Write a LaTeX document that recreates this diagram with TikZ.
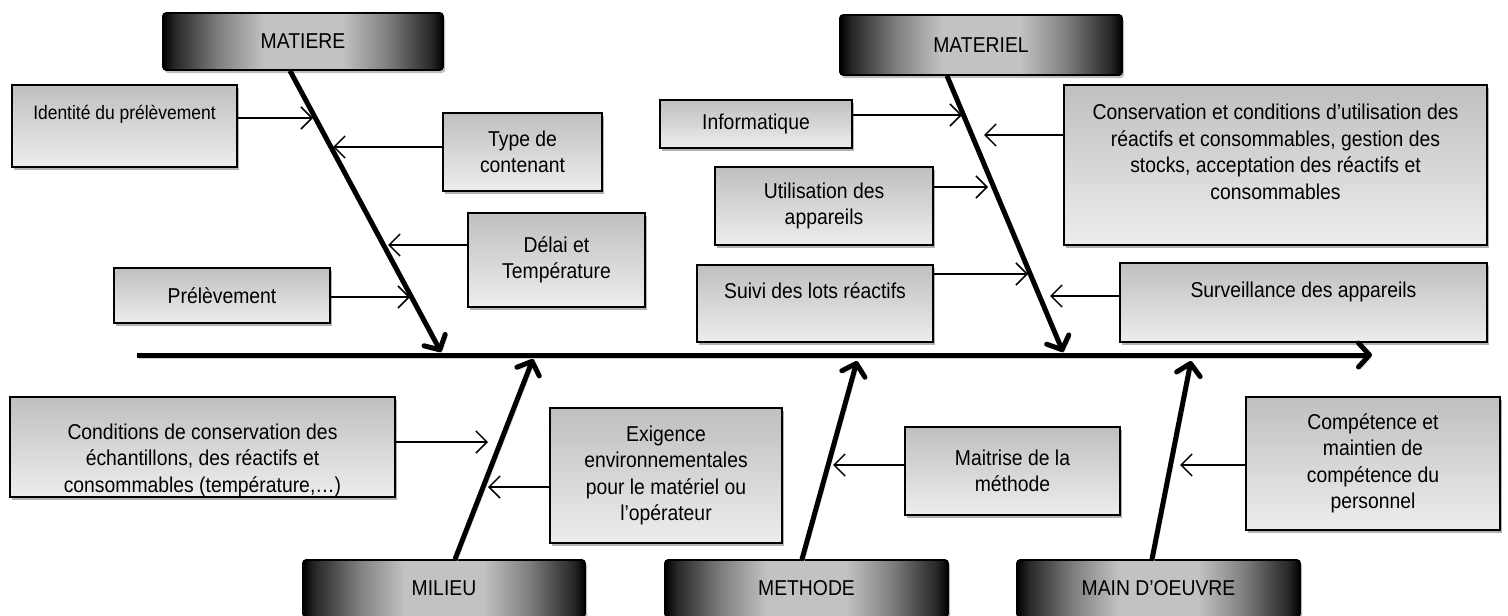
\documentclass[tikz,border=0pt]{standalone}
\usepackage{fontspec}
\setmainfont{Liberation Sans}[FakeStretch=0.9]
\usetikzlibrary{arrows.meta,shadows,calc}
\pgfdeclarehorizontalshading{hdrshade}{100bp}{color(0bp)=(black); color(25bp)=(black); color(27bp)=(black!85); color(35bp)=(black!50); color(43bp)=(black!24); color(57bp)=(black!24); color(65bp)=(black!50); color(73bp)=(black!85); color(75bp)=(black); color(100bp)=(black)}
\tikzset{
  ibox/.style={draw, line width=1.4pt, top color=black!25, bottom color=black!7,
    drop shadow={shadow xshift=2pt, shadow yshift=-3pt, fill=black, opacity=0.3},
    align=center, inner sep=0pt, font=\fontsize{21.5}{26.5}\selectfont},
  hdr/.style={draw, line width=1.6pt, rounded corners=3pt, shading=hdrshade,
    drop shadow={shadow xshift=2pt, shadow yshift=-3pt, fill=black, opacity=0.25},
    inner sep=0pt, font=\fontsize{21.5}{23}\selectfont},
  lshadow/.style={preaction={draw=black!18, transform canvas={xshift=2pt,yshift=-3pt}}},
  bone/.style={line width=5pt, lshadow, -{Straight Barb[length=11pt,width=24pt,round]}},
  arr/.style={line width=1.5pt, -{Straight Barb[length=11pt,width=22pt]}}
}
\newcommand\mkbox[7][]{\node[ibox,#1,minimum width={#5-#3},minimum height={#6-#4}] (#2) at ({(#3+#5)/2},{(#4+#6)/2}) {#7};}
\begin{document}
\begin{tikzpicture}[x=1pt,y=-1pt]
\useasboundingbox (0,0) rectangle (1508,616);
\clip (0,0) rectangle (1508,616);
% header boxes
\node[hdr,minimum width=280pt,minimum height=57pt] (hm) at (303,41.5) {MATIERE};
\node[hdr,minimum width=282pt,minimum height=60pt] (hmat) at (981,45) {MATERIEL};
\node[hdr,minimum width=282pt,minimum height=57pt] (hmil) at (444,588.5) {MILIEU};
\node[hdr,minimum width=283pt,minimum height=57pt] (hmeth) at (806.5,588.5) {METHODE};
\node[hdr,minimum width=283pt,minimum height=57pt] (hmain) at (1158.5,588.5) {MAIN D’OEUVRE};
% cause boxes
\mkbox[font=\fontsize{19.4}{26.5}\selectfont]{b1}{12}{85}{237}{167}{Identité du prélèvement\\\mbox{}}
\mkbox{b2}{443}{113}{602}{191}{Type de\\contenant}
\mkbox{b3}{468}{213}{645}{307}{Délai et\\Température}
\mkbox{b4}{114}{268}{330}{323}{Prélèvement}
\mkbox{b5}{660}{100}{852}{148}{Informatique}
\mkbox{b6}{1064}{85}{1487}{245}{Conservation et conditions d’utilisation des\\réactifs et consommables, gestion des\\stocks, acceptation des réactifs et\\consommables\\\mbox{}}
\mkbox{b7}{715}{167}{933}{245}{Utilisation des\\appareils}
\mkbox{b8}{697}{265}{933}{342}{Suivi des lots réactifs\\\mbox{}}
\mkbox{b9}{1120}{263}{1487}{342}{Surveillance des appareils\\\mbox{}}
\mkbox{b10}{10}{397}{395}{497}{\rule{0pt}{15pt}\\Conditions de conservation des\\échantillons, des réactifs et\\consommables (température,…)}
\mkbox{b11}{550}{408}{782}{543}{Exigence\\environnementales\\pour le matériel ou\\l’opérateur}
\mkbox{b12}{905}{427}{1120}{515}{Maitrise de la\\méthode}
\mkbox{b13}{1246}{397}{1500}{530}{Compétence et\\maintien de\\compétence du\\personnel}
% spine
\coordinate (s0) at (137,355);
\coordinate (s1) at (1372,355);
\draw[bone] (s0) -- (s1);
% bones
\coordinate (tm) at (441,352);
\coordinate (tmat) at (1063,352);
\coordinate (tmil) at (533,359);
\coordinate (tmeth) at (857,361);
\coordinate (tmain) at (1191,361);
\draw[bone] ($(hm.south)+(-13,0)$) -- (tm);
\draw[bone] ($(hmat.south)+(-34,0)$) -- (tmat);
\draw[bone] ($(hmil.north)+(11,0)$) -- (tmil);
\draw[bone] ($(hmeth.north)+(-4.5,0)$) -- (tmeth);
\draw[bone] ($(hmain.north)+(-6.5,0)$) -- (tmain);
% small arrows
\coordinate (a1) at (313,118);
\coordinate (a2) at (333,147);
\coordinate (a3) at (388,245);
\coordinate (a4) at (410,297);
\coordinate (a5) at (962,115);
\coordinate (a6) at (984,135);
\coordinate (a7) at (988,187);
\coordinate (a8) at (1028,274);
\coordinate (a9) at (1050,296);
\coordinate (a10) at (488,442);
\coordinate (a11) at (488,487);
\coordinate (a12) at (833,465);
\coordinate (a13) at (1180,465);
\draw[arr] (b1.east |- a1) -- (a1);
\draw[arr] (b2.west |- a2) -- (a2);
\draw[arr] (b3.west |- a3) -- (a3);
\draw[arr] (b4.east |- a4) -- (a4);
\draw[arr] (b5.east |- a5) -- (a5);
\draw[arr] (b6.west |- a6) -- (a6);
\draw[arr] (b7.east |- a7) -- (a7);
\draw[arr] (b8.east |- a8) -- (a8);
\draw[arr] (b9.west |- a9) -- (a9);
\draw[arr] (b10.east |- a10) -- (a10);
\draw[arr] (b11.west |- a11) -- (a11);
\draw[arr] (b12.west |- a12) -- (a12);
\draw[arr] (b13.west |- a13) -- (a13);
\end{tikzpicture}
\end{document}
